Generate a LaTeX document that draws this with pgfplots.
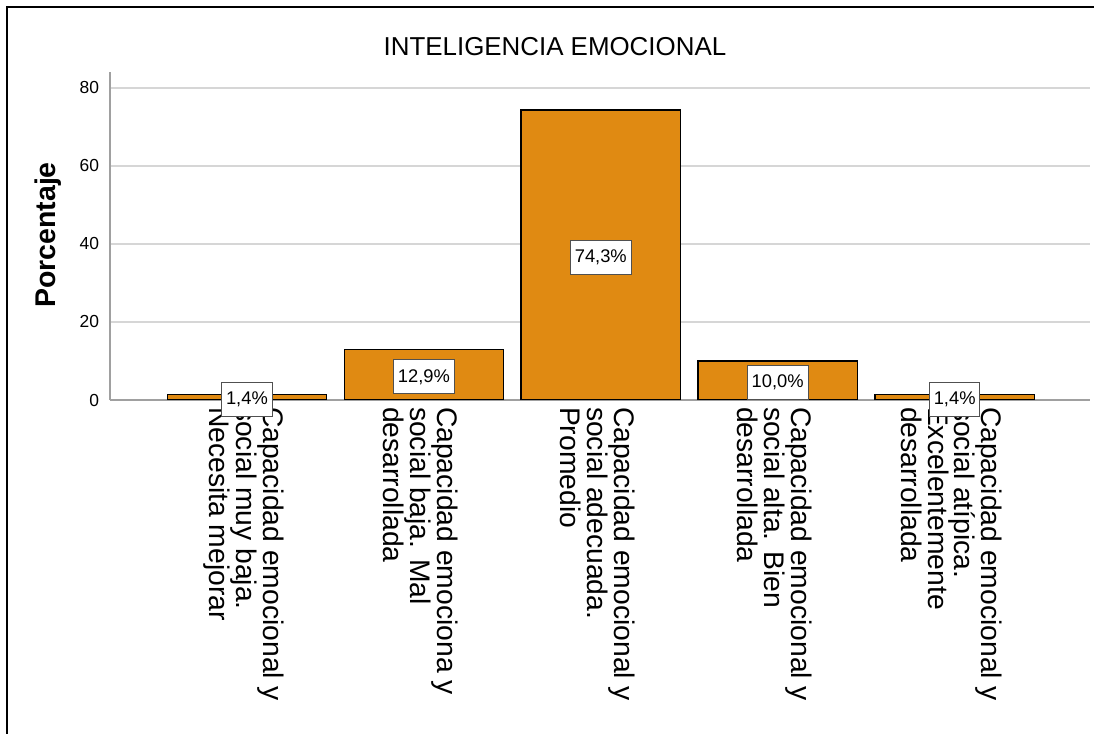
\documentclass[border=0pt]{standalone}
\usepackage{fontspec}
\setmainfont{Liberation Sans}
\usepackage{pgfplots}
\pgfplotsset{compat=1.18}
\definecolor{barOrange}{HTML}{E08A12}
\definecolor{gridGray}{HTML}{D6D6D6}
\definecolor{axisGray}{HTML}{A0A0A0}
\definecolor{boxGray}{HTML}{505050}

\begin{document}
\begin{tikzpicture}
\useasboundingbox (0,0) rectangle (547bp,367bp);
% chart frame (only left and top edges are visible)
\draw[line width=1.2bp] (3.5bp,0) -- (3.5bp,363.5bp) -- (547bp,363.5bp);
\begin{axis}[
    at={(55bp,167bp)}, anchor=south west,
    scale only axis, width=490bp, height=164bp,
    xmin=-0.774, xmax=4.765, ymin=0, ymax=84.1,
    axis lines=left,
    axis line style={-, draw=axisGray, line width=0.8bp},
    major tick length=0pt,
    ytick={0,20,40,60,80},
    ymajorgrids, grid style={gridGray, line width=1bp},
    xtick={0,1,2,3,4},
    xticklabels={
        {Capacidad emocional y\\social muy baja.\\Necesita mejorar},
        {Capacidad emociona y\\social baja. Mal\\desarrollada},
        {Capacidad emocional  y\\social adecuada.\\Promedio},
        {Capacidad emocional y\\social alta. Bien\\desarrollada},
        {Capacidad emocional y\\social atípica.\\Excelentemente\\desarrollada}},
    xticklabel style={rotate=-90, anchor=west, align=left,
        font=\fontsize{14.2}{13.5}\selectfont, yshift=-1.5bp},
    yticklabel style={font=\fontsize{8.75}{10}\selectfont, xshift=-2bp},
    /pgf/number format/assume math mode=true,
    title={INTELIGENCIA EMOCIONAL},
    title style={at={(axis description cs:0.454,1.04)}, anchor=center,
        font=\fontsize{13}{15}\selectfont},
    ylabel={Porcentaje},
    ylabel style={at={(axis description cs:-0.0633,0.503)}, anchor=center,
        font=\bfseries\fontsize{14.3}{16}\selectfont},
]
\addplot[ybar, bar width=0.9, fill=barOrange, draw=black, line width=0.75bp,
    visualization depends on={y \as \rawy},
    nodes near coords={\pgfmathprintnumber[fixed,zerofill,precision=1,use comma]{\pgfplotspointmeta}\%},
    nodes near coords style={anchor=center, fill=white, draw=boxGray,
        line width=0.5bp, inner xsep=2.2bp, inner ysep=0pt, minimum height=17bp,
        font=\fontsize{9.2}{11}\selectfont, yshift=-1bp,
        shift={(axis direction cs:0,-\rawy/2)}},
] coordinates {(0,1.4) (1,12.9) (2,74.3) (3,10.0) (4,1.4)};
\end{axis}
\end{tikzpicture}
\end{document}
